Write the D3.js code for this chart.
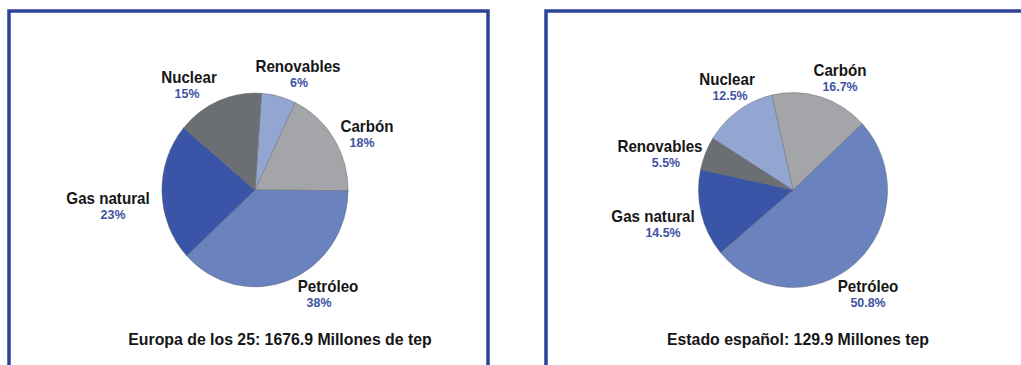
<!DOCTYPE html>
<html>
<head>
<meta charset="utf-8">
<script src="https://cdn.jsdelivr.net/npm/d3@7"></script>
<style>
  html, body { margin: 0; padding: 0; background: #ffffff; }
  svg { display: block; font-family: "Liberation Sans", Arial, Helvetica, sans-serif; }
</style>
</head>
<body>
<svg id="chart" width="1021" height="365"></svg>
<script>
// Primary energy consumption by source (%)
const europaSources = ["Renovables", "Carbón", "Petróleo", "Gas natural", "Nuclear"];
const europaValues  = [6, 18, 38, 23, 15];
const europaLabels  = ["6%", "18%", "38%", "23%", "15%"];
const europaTitle   = "Europa de los 25: 1676.9 Millones de tep";

const espanaSources = ["Carbón", "Petróleo", "Gas natural", "Renovables", "Nuclear"];
const espanaValues  = [16.7, 50.8, 14.5, 5.5, 12.5];
const espanaLabels  = ["16.7%", "50.8%", "14.5%", "5.5%", "12.5%"];
const espanaTitle   = "Estado español: 129.9 Millones tep";

const svg = d3.select("#chart");
const deg = Math.PI / 180;

// Panel frames
const frameColor = "#2d4496";
svg.append("path")
  .attr("d", "M9,375 L9,11 L488,11 L488,375")
  .attr("fill", "none").attr("stroke", frameColor).attr("stroke-width", 3.5);
svg.append("path")
  .attr("d", "M546,375 L546,11 L1030,11")
  .attr("fill", "none").attr("stroke", frameColor).attr("stroke-width", 3.5);

const palette = {
  lightBlue: "#93a6d1",
  lightGray: "#a3a5a9",
  midBlue:   "#6a83bf",
  darkBlue:  "#3a55a7",
  darkGray:  "#6b6e72"
};

// Slightly condensed bold text, closer to a Helvetica look
function label(parent, x, y, text, size, color, squeeze) {
  parent.append("text")
    .attr("transform", `translate(${x},${y}) scale(${squeeze},1)`)
    .attr("text-anchor", "middle")
    .attr("font-size", size).attr("font-weight", "bold")
    .attr("fill", color)
    .text(text);
}

function drawPie(cfg) {
  const pie = d3.pie().sort(null)
    .startAngle(cfg.start)
    .endAngle(cfg.start + 2 * Math.PI);
  const arcs = pie(cfg.values);
  const arc = d3.arc().innerRadius(0).outerRadius(cfg.r);

  const g = svg.append("g")
    .attr("transform", `translate(${cfg.cx},${cfg.cy}) scale(${cfg.sx},${cfg.sy})`);
  g.selectAll("path.slice")
    .data(arcs)
    .join("path")
    .attr("class", "slice")
    .attr("d", arc)
    .attr("fill", (d, i) => cfg.colors[i])
    .attr("stroke", "#5a5d62")
    .attr("stroke-width", 0.4)
    .attr("stroke-linejoin", "round");

  // Category names and percentages
  const lab = svg.append("g");
  cfg.sources.forEach((name, i) => {
    const p = cfg.labelPos[i];
    label(lab, p[0], p[1], name, 16.3, "#161616", 0.93);
    label(lab, p[2], p[1] + 15, cfg.labels[i], 13.5, "#3d52a2", 0.92);
  });

  label(svg, cfg.titleX, 345, cfg.title, 16.5, "#161616", 0.96);
}

drawPie({
  sources: europaSources, values: europaValues, labels: europaLabels, title: europaTitle,
  cx: 255, cy: 190, r: 95, sx: 0.98, sy: 1.02, start: 4 * deg,
  colors: [palette.lightBlue, palette.lightGray, palette.midBlue, palette.darkBlue, palette.darkGray],
  // [name x, name baseline, value x]
  labelPos: [[298, 72, 299], [367, 132, 362], [328, 292, 319], [108, 204, 113], [189, 83, 187]],
  titleX: 280
});

drawPie({
  sources: espanaSources, values: espanaValues, labels: espanaLabels, title: espanaTitle,
  cx: 793, cy: 190, r: 96, sx: 0.985, sy: 1.015, start: -13 * deg,
  colors: [palette.lightGray, palette.midBlue, palette.darkBlue, palette.darkGray, palette.lightBlue],
  labelPos: [[840, 76, 840], [868, 292, 868], [653, 222, 663], [660, 152, 666], [727, 85, 730]],
  titleX: 798
});
</script>
</body>
</html>
